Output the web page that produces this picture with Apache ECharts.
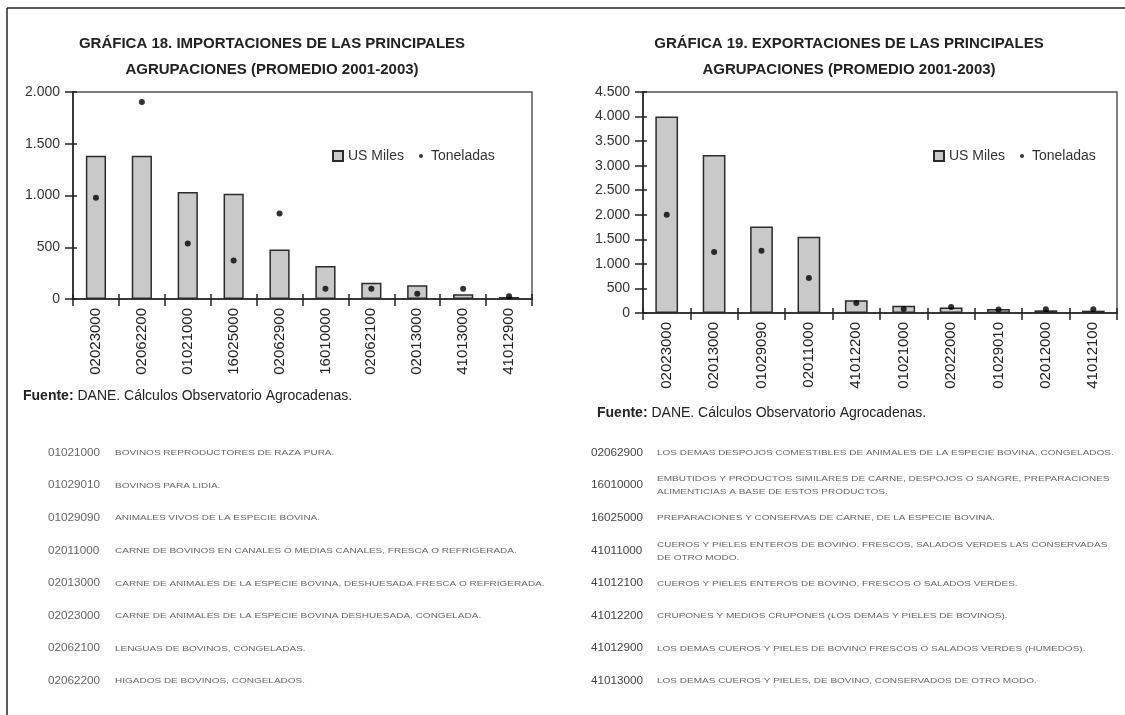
<!DOCTYPE html>
<html>
<head>
<meta charset="utf-8">
<title>Gráficas 18 y 19</title>
<script src="https://cdn.jsdelivr.net/npm/echarts@6/dist/echarts.min.js"></script>
<style>
  html, body { margin: 0; padding: 0; background: #fff; }
  #main { width: 1125px; height: 715px; }
</style>
</head>
<body>
<div id="main"></div>
<script>
var FONT = '"Liberation Sans", Arial, sans-serif';

// grafica 18 - importaciones
var impCategories = ['02023000', '02062200', '01021000', '16025000', '02062900', '16010000', '02062100', '02013000', '41013000', '41012900'];
var impUS = [1385, 1385, 1035, 1018, 478, 318, 157, 132, 45, 19];
var impTon = [978, 1904, 536, 371, 826, 98, 100, 50, 100, 26];
var impAxis = [0, 2000, 500]; // min, max, interval

// grafica 19 - exportaciones
var expCategories = ['02023000', '02013000', '01029090', '02011000', '41012200', '01021000', '02022000', '01029010', '02012000', '41012100'];
var expUS = [4000, 3215, 1760, 1555, 260, 150, 110, 82, 55, 48];
var expTon = [2000, 1240, 1270, 715, 206, 82, 124, 69, 76, 76];
var expAxis = [0, 4500, 500];

var seriesNames = ['US Miles', 'Toneladas'];

// tablas de partidas
var leftCodes = ['01021000', '01029010', '01029090', '02011000', '02013000', '02023000', '02062100', '02062200'];
var leftDescs = [
    'BOVINOS REPRODUCTORES DE RAZA PURA.',
    'BOVINOS PARA LIDIA.',
    'ANIMALES VIVOS DE LA ESPECIE BOVINA.',
    'CARNE DE BOVINOS EN CANALES O MEDIAS CANALES, FRESCA O REFRIGERADA.',
    'CARNE DE ANIMALES DE LA ESPECIE BOVINA, DESHUESADA FRESCA O REFRIGERADA.',
    'CARNE DE ANIMALES DE LA ESPECIE BOVINA DESHUESADA, CONGELADA.',
    'LENGUAS DE BOVINOS, CONGELADAS.',
    'HIGADOS DE BOVINOS, CONGELADOS.'
];
var rightCodes = ['02062900', '16010000', '16025000', '41011000', '41012100', '41012200', '41012900', '41013000'];
var rightDescs = [
    'LOS DEMAS DESPOJOS COMESTIBLES DE ANIMALES DE LA ESPECIE BOVINA, CONGELADOS.',
    'EMBUTIDOS Y PRODUCTOS SIMILARES DE CARNE, DESPOJOS O SANGRE, PREPARACIONES\nALIMENTICIAS A BASE DE ESTOS PRODUCTOS.',
    'PREPARACIONES Y CONSERVAS DE CARNE, DE LA ESPECIE BOVINA.',
    'CUEROS Y PIELES ENTEROS DE BOVINO. FRESCOS, SALADOS VERDES LAS CONSERVADAS\nDE OTRO MODO.',
    'CUEROS Y PIELES ENTEROS DE BOVINO, FRESCOS O SALADOS VERDES.',
    'CRUPONES Y MEDIOS CRUPONES (LOS DEMAS Y PIELES DE BOVINOS).',
    'LOS DEMAS CUEROS Y PIELES DE BOVINO FRESCOS O SALADOS VERDES (HUMEDOS).',
    'LOS DEMAS CUEROS Y PIELES, DE BOVINO, CONSERVADOS DE OTRO MODO.'
];

function miles(v) {
    return String(v).replace(/\B(?=(\d{3})+(?!\d))/g, '.');
}

// eje x principal + eje de apoyo para las marcas que cruzan la linea
function xAxes(gridIndex, cats) {
    return [{
        type: 'category', gridIndex: gridIndex, data: cats, position: 'bottom',
        axisLine: { lineStyle: { color: '#222', width: 1.5 } },
        axisTick: { show: true, interval: 0, length: 7, lineStyle: { color: '#222', width: 1.5 } },
        axisLabel: { interval: 0, rotate: 90, fontSize: 15, color: '#222', fontFamily: FONT, margin: 9 }
    }, {
        type: 'category', gridIndex: gridIndex, data: cats, position: 'bottom',
        axisLine: { show: false },
        axisTick: { show: true, inside: true, interval: 0, length: 5, lineStyle: { color: '#222', width: 1.5 } },
        axisLabel: { show: false }
    }];
}

function yAxes(gridIndex, ax) {
    return [{
        type: 'value', gridIndex: gridIndex, position: 'left', min: ax[0], max: ax[1], interval: ax[2],
        axisLine: { show: true, lineStyle: { color: '#222', width: 1.5 } },
        axisTick: { show: true, length: 8, lineStyle: { color: '#222', width: 1.5 } },
        axisLabel: { fontSize: 14, color: '#333', fontFamily: FONT, margin: 13, formatter: miles },
        splitLine: { show: false }
    }, {
        type: 'value', gridIndex: gridIndex, position: 'left', min: ax[0], max: ax[1], interval: ax[2],
        axisLine: { show: false },
        axisTick: { show: true, inside: true, length: 4, lineStyle: { color: '#222', width: 1.5 } },
        axisLabel: { show: false },
        splitLine: { show: false }
    }];
}

function barSeries(axisIndex, data, width) {
    return {
        name: seriesNames[0], type: 'bar', xAxisIndex: axisIndex, yAxisIndex: axisIndex,
        data: data, barWidth: width,
        itemStyle: { color: '#c9c9c9', borderColor: '#2b2b2b', borderWidth: 1.5 }
    };
}

function dotSeries(axisIndex, data) {
    return {
        name: seriesNames[1], type: 'scatter', xAxisIndex: axisIndex, yAxisIndex: axisIndex,
        data: data, symbol: 'circle', symbolSize: 6,
        itemStyle: { color: '#000' }
    };
}

var dotIcon = 'path://M0,0M10,10M3,5a2,2 0 1,0 4,0a2,2 0 1,0 -4,0z';

function legendAt(left) {
    return {
        left: left, top: 144, itemWidth: 10, itemHeight: 10, itemGap: 12,
        textStyle: { fontSize: 14, color: '#333', fontFamily: FONT },
        data: [{ name: seriesNames[0], icon: 'rect' }, { name: seriesNames[1], icon: dotIcon }]
    };
}

function titleAt(left, text) {
    return {
        text: text, left: left, top: 31, textAlign: 'center', padding: 0,
        textStyle: { fontSize: 15, fontWeight: 'bold', color: '#222', fontFamily: FONT, lineHeight: 26 }
    };
}

function tableRows(codes, descs, codeX, descX, codeColor) {
    var els = [];
    codes.forEach(function(code, i) {
        var y = 453 + i * 32.6;
        els.push({
            type: 'text', x: codeX, y: y, scaleX: 1.17, silent: true,
            style: { text: code, fontSize: 10, fill: codeColor, fontFamily: FONT, verticalAlign: 'middle' }
        });
        els.push({
            type: 'text', x: descX, y: y, scaleX: 1.25, silent: true,
            style: { text: descs[i], fontSize: 8, lineHeight: 13, fill: '#666', fontFamily: FONT, verticalAlign: 'middle' }
        });
    });
    return els;
}

function fuente(x, y) {
    return {
        type: 'text', x: x, y: y, silent: true,
        style: {
            text: '{b|Fuente:} DANE. Cálculos Observatorio Agrocadenas.',
            fontSize: 14, fill: '#222', fontFamily: FONT, verticalAlign: 'middle',
            rich: { b: { fontWeight: 'bold', fontSize: 14, fontFamily: FONT, fill: '#222' } }
        }
    };
}

var graphics = [
    { type: 'line', silent: true, shape: { x1: 7, y1: 8, x2: 1125, y2: 8 }, style: { stroke: '#222', lineWidth: 1.5 } },
    { type: 'line', silent: true, shape: { x1: 7, y1: 8, x2: 7, y2: 715 }, style: { stroke: '#222', lineWidth: 1.5 } },
    fuente(23, 396),
    fuente(597, 413)
].concat(tableRows(leftCodes, leftDescs, 48, 115, '#666'))
 .concat(tableRows(rightCodes, rightDescs, 591, 657, '#444'));

var chart = echarts.init(document.getElementById('main'));
chart.setOption({
    animation: false,
    backgroundColor: '#fff',
    textStyle: { fontFamily: FONT },
    title: [
        titleAt(272, 'GRÁFICA 18. IMPORTACIONES DE LAS PRINCIPALES\nAGRUPACIONES (PROMEDIO 2001-2003)'),
        titleAt(849, 'GRÁFICA 19. EXPORTACIONES DE LAS PRINCIPALES\nAGRUPACIONES (PROMEDIO 2001-2003)')
    ],
    legend: [legendAt(327), legendAt(928)],
    grid: [
        { left: 73, top: 92, width: 459, height: 207, show: true, borderColor: '#555', borderWidth: 1.5 },
        { left: 643, top: 92, width: 474, height: 221, show: true, borderColor: '#555', borderWidth: 1.5 }
    ],
    xAxis: xAxes(0, impCategories).concat(xAxes(1, expCategories)),
    yAxis: yAxes(0, impAxis).concat(yAxes(1, expAxis)),
    series: [
        barSeries(0, impUS, '44%'),
        dotSeries(0, impTon),
        barSeries(2, expUS, '48%'),
        dotSeries(2, expTon)
    ],
    graphic: graphics
});
</script>
</body>
</html>
